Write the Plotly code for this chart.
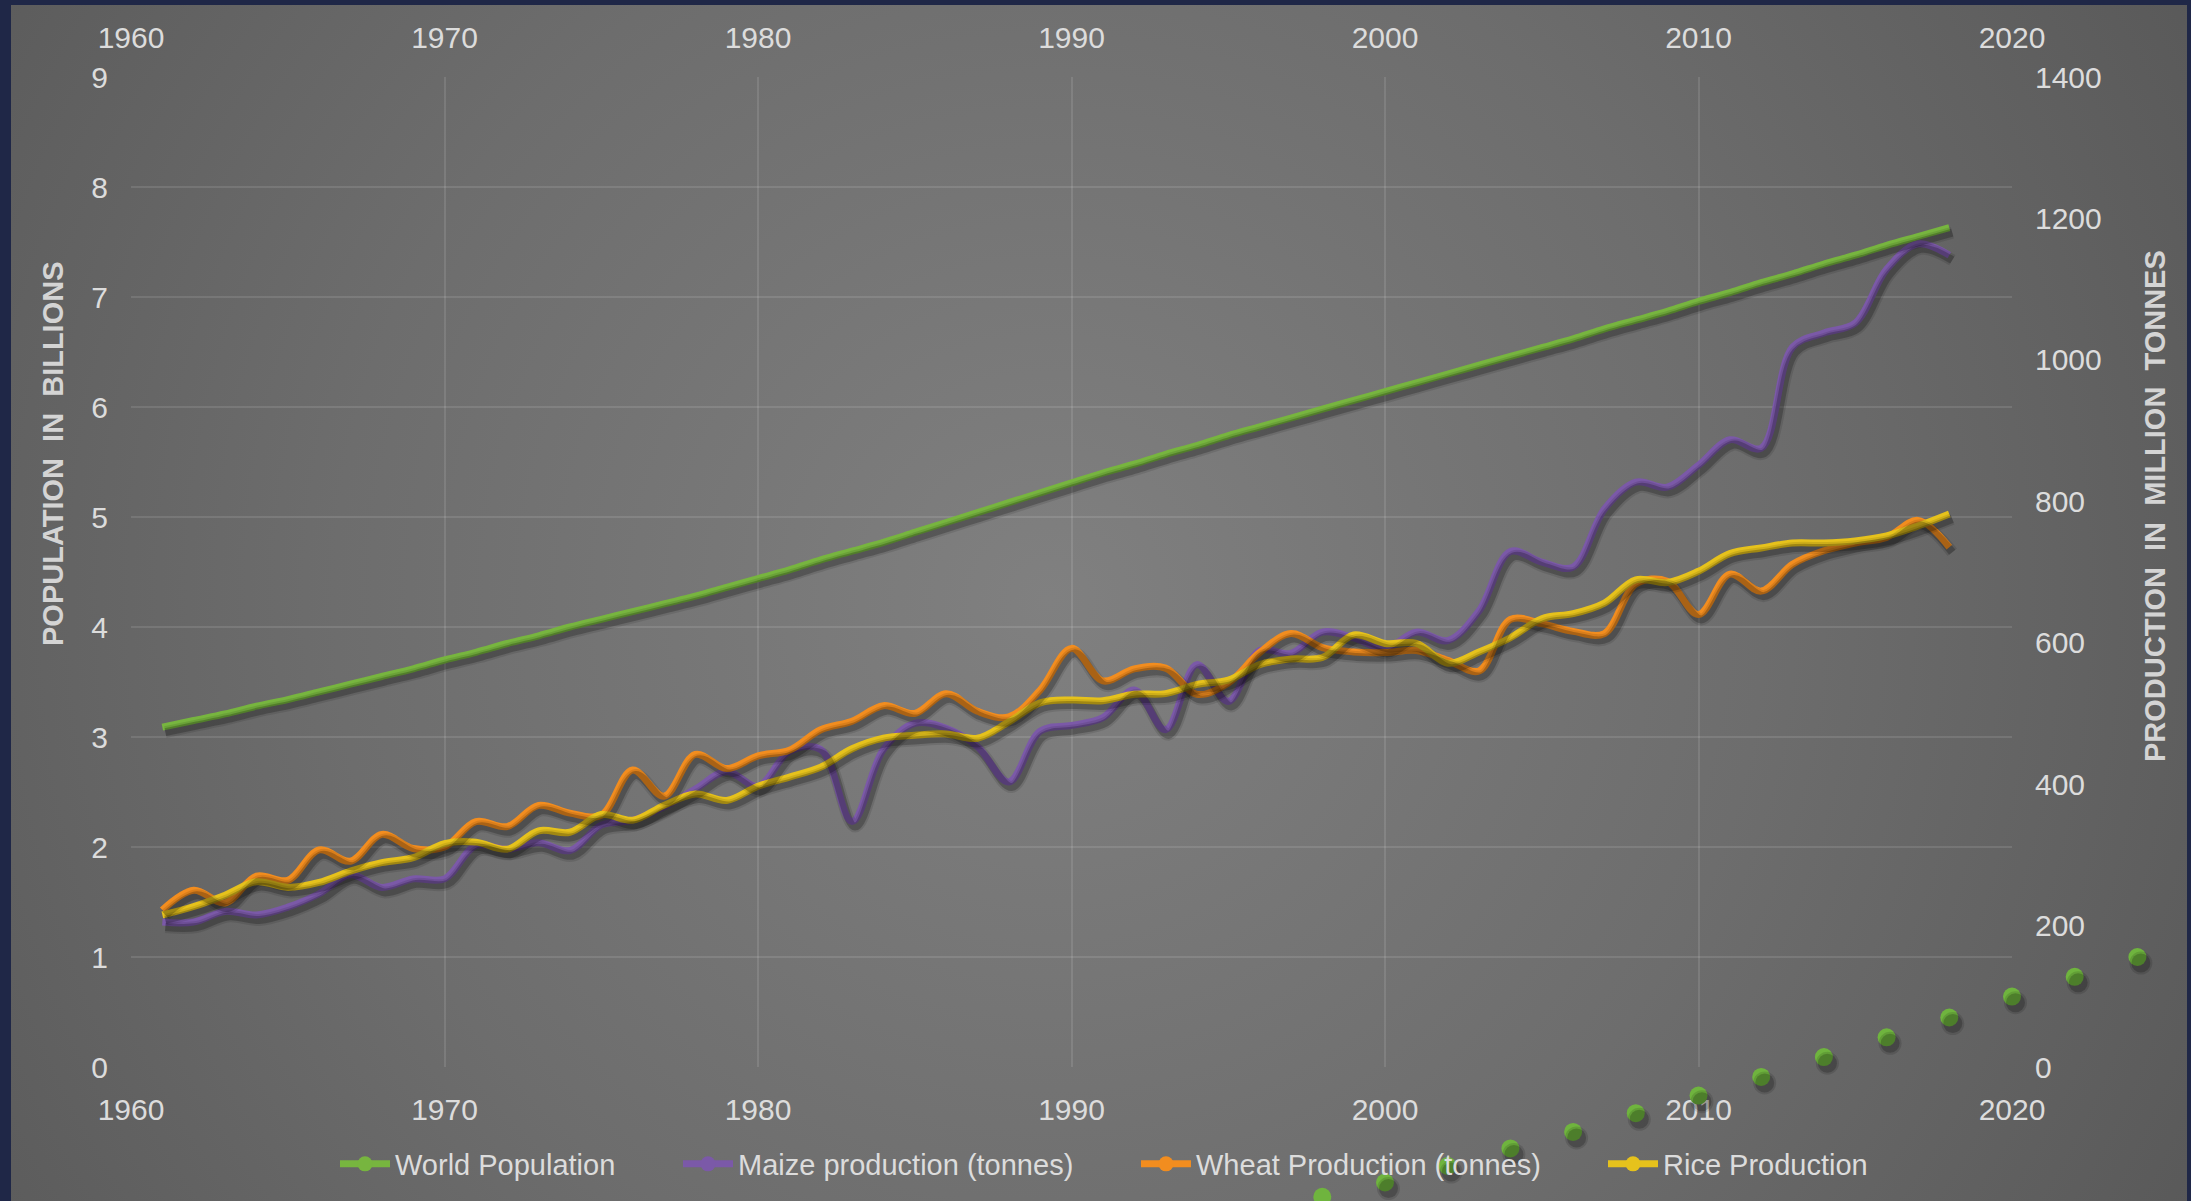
import base64
import plotly.graph_objects as go

# ---------------- data ----------------
years = list(range(1961, 2019))

world_population = [  # billions
    3.09, 3.15, 3.21, 3.28, 3.34, 3.41, 3.48, 3.55, 3.62, 3.70,
    3.77, 3.85, 3.92, 4.00, 4.07, 4.14, 4.21, 4.28, 4.36, 4.44,
    4.52, 4.61, 4.69, 4.77, 4.86, 4.95, 5.04, 5.13, 5.22, 5.31,
    5.40, 5.48, 5.57, 5.65, 5.74, 5.82, 5.90, 5.98, 6.06, 6.14,
    6.22, 6.30, 6.38, 6.46, 6.54, 6.62, 6.71, 6.79, 6.87, 6.96,
    7.04, 7.13, 7.21, 7.30, 7.38, 7.47, 7.55, 7.63,
]

maize = [  # million tonnes
    205, 205, 220, 215, 226, 245, 272, 254, 266, 266,
    313, 308, 317, 306, 342, 349, 368, 393, 418, 397,
    446, 449, 347, 449, 486, 479, 453, 403, 475, 483,
    494, 533, 477, 569, 517, 589, 585, 615, 607, 592,
    615, 603, 645, 729, 714, 707, 789, 827, 820, 851,
    887, 875, 1018, 1038, 1052, 1128, 1164, 1148,
]

wheat = [
    222, 250, 232, 270, 264, 307, 291, 329, 309, 311,
    347, 340, 370, 359, 356, 420, 383, 442, 422, 440,
    448, 477, 489, 511, 500, 528, 503, 495, 533, 592,
    546, 563, 564, 527, 543, 586, 613, 593, 587, 586,
    589, 575, 560, 633, 627, 616, 613, 683, 687, 640,
    697, 673, 711, 730, 741, 749, 773, 735,
]

rice = [
    215, 227, 243, 262, 254, 261, 277, 289, 296, 316,
    318, 308, 334, 332, 357, 349, 370, 386, 377, 397,
    410, 424, 450, 465, 469, 471, 465, 488, 515, 519,
    518, 527, 528, 541, 547, 569, 577, 579, 611, 599,
    599, 571, 587, 607, 634, 641, 656, 689, 685, 701,
    726, 734, 741, 741, 744, 751, 765, 782,
]

# population markers that sit apart from the line (billions scale)
marker_years = [1996, 1998, 2000, 2002, 2004, 2006, 2008, 2010,
                2012, 2014, 2016, 2018, 2020, 2022, 2024]
marker_values = [-1.31, -1.18, -1.05, -0.90, -0.74, -0.59, -0.42, -0.26,
                 -0.09, 0.09, 0.27, 0.45, 0.64, 0.82, 1.00]

series_names = ["World Population", "Maize production (tonnes)",
                "Wheat Production (tonnes)", "Rice Production"]

x_ticks = [1960, 1970, 1980, 1990, 2000, 2010, 2020]

# ---------------- style ----------------
W, H = 2191, 1201
ML, MR, MT, MB = 131, 179, 77, 134          # plot-area insets in pixels
PW, PH = W - ML - MR, H - MT - MB

X_RANGE = [1960, 2020]
Y_RANGE = [0, 9]
Y2_RANGE = [0, 1400]

GREEN = "#77b53f"
PURPLE = "#7b59a8"
ORANGE = "#f28d1f"
YELLOW = "#e6c21c"
TEXT = "#dcdcdc"
GRID = "rgba(255,255,255,0.11)"
FONT = "Liberation Sans, Arial, sans-serif"
LW = 7

SDX, SDY = 3, 5            # drop-shadow offset in pixels

X_DOM = [ML / W, (W - MR) / W]
Y_DOM = [MB / H, (H - MT) / H]


def shifted(rng, px, span_px):
    d = (rng[1] - rng[0]) * px / span_px
    return [rng[0] + d, rng[1] + d]


def widened(rng, lo_px, hi_px, span_px):
    u = (rng[1] - rng[0]) / span_px
    return [rng[0] - lo_px * u, rng[1] + hi_px * u]


fig = go.Figure()

# --- shadows (drawn first, underneath) ---
for vals, xa, ya in [(world_population, "x3", "y3"),
                     (maize, "x4", "y4"), (wheat, "x4", "y4"), (rice, "x4", "y4")]:
    for w, a in [(LW + 5, 0.10), (LW + 1, 0.22)]:
        fig.add_trace(go.Scatter(
            x=years, y=vals, xaxis=xa, yaxis=ya, mode="lines",
            line=dict(color=f"rgba(0,0,0,{a})", width=w, shape="spline"),
            showlegend=False, hoverinfo="skip", cliponaxis=False))

for s, a in [(23, 0.12), (19, 0.20)]:
    fig.add_trace(go.Scatter(
        x=marker_years, y=marker_values, xaxis="x6", yaxis="y6", mode="markers",
        marker=dict(color=f"rgba(0,0,0,{a})", size=s, line=dict(width=0)),
        showlegend=False, hoverinfo="skip", cliponaxis=False))

# --- main series ---
def series(x, y, name, color, xa, ya, legend):
    return go.Scatter(
        x=x, y=y, name=name, xaxis=xa, yaxis=ya, legend=legend,
        mode="lines+markers",
        line=dict(color=color, width=LW, shape="spline", smoothing=1.0),
        marker=dict(color=color, size=15, line=dict(width=0)),
        selectedpoints=[], unselected=dict(marker=dict(opacity=0)),
        cliponaxis=True)

fig.add_trace(series(years, world_population, series_names[0], GREEN, "x", "y", "legend"))
fig.add_trace(series(years, maize, series_names[1], PURPLE, "x2", "y2", "legend2"))
fig.add_trace(series(years, wheat, series_names[2], ORANGE, "x2", "y2", "legend3"))
fig.add_trace(series(years, rice, series_names[3], YELLOW, "x2", "y2", "legend4"))

fig.add_trace(go.Scatter(
    x=marker_years, y=marker_values, xaxis="x5", yaxis="y5", mode="markers",
    marker=dict(color="#6fb43e", size=18, line=dict(width=0)),
    showlegend=False, cliponaxis=False, name=series_names[0]))

# --- background panel with a radial gradient ---
PX0, PY0, PX1, PY1 = 11, 5, 2187, 1201
bw, bh = PX1 - PX0, PY1 - PY0
svg = (
    f'<svg xmlns="http://www.w3.org/2000/svg" width="{bw}" height="{bh}" '
    f'viewBox="0 0 {bw} {bh}" preserveAspectRatio="none">'
    '<defs><radialGradient id="g" gradientUnits="userSpaceOnUse" '
    f'cx="{1050 - PX0}" cy="{600 - PY0}" r="1300">'
    '<stop offset="0" stop-color="#808080"/>'
    '<stop offset="0.55" stop-color="#6d6d6d"/>'
    '<stop offset="1" stop-color="#595959"/>'
    '</radialGradient></defs>'
    f'<rect x="0" y="0" width="{bw}" height="{bh}" fill="url(#g)"/></svg>'
)
bg_src = "data:image/svg+xml;base64," + base64.b64encode(svg.encode()).decode()

fig.add_layout_image(dict(
    source=bg_src, xref="paper", yref="paper",
    x=PX0 / W, y=1 - PY0 / H, sizex=bw / W, sizey=bh / H,
    xanchor="left", yanchor="top", sizing="stretch", layer="below"))

tickfont = dict(family=FONT, size=30, color=TEXT)
common_x = dict(range=X_RANGE, tickvals=x_ticks, ticks="", showline=False,
                zeroline=False, tickfont=tickfont, ticklabelstandoff=22,
                domain=X_DOM)
hidden = dict(visible=False, showgrid=False, zeroline=False)

# full-canvas range on the population scale (for markers beyond the plot area)
X_FULL = widened(X_RANGE, ML, MR, PW)
Y_FULL = widened(Y_RANGE, MB, MT, PH)

fig.update_layout(
    width=W, height=H,
    margin=dict(l=0, r=0, t=0, b=0, autoexpand=False),
    paper_bgcolor="#1f2747",
    plot_bgcolor="rgba(0,0,0,0)",
    hovermode=False,
    xaxis=dict(**common_x, showgrid=True, gridcolor=GRID, gridwidth=2),
    yaxis=dict(range=Y_RANGE, dtick=1, ticks="", showline=False, zeroline=False,
               showgrid=True, gridcolor=GRID, gridwidth=2, tickfont=tickfont,
               ticklabelstandoff=22, domain=Y_DOM),
    xaxis2=dict(**common_x, overlaying="x", side="top", showgrid=False),
    yaxis2=dict(range=Y2_RANGE, dtick=200, overlaying="y", side="right", ticks="",
                showline=False, zeroline=False, showgrid=False, tickfont=tickfont,
                ticklabelstandoff=22, domain=Y_DOM),
    # shadow axes: same scale, offset by a few pixels
    xaxis3=dict(range=shifted(X_RANGE, -SDX, PW), overlaying="x", **hidden),
    yaxis3=dict(range=shifted(Y_RANGE, SDY, PH), overlaying="y", **hidden),
    xaxis4=dict(range=shifted(X_RANGE, -SDX, PW), overlaying="x", **hidden),
    yaxis4=dict(range=shifted(Y2_RANGE, SDY, PH), overlaying="y", **hidden),
    xaxis5=dict(range=X_FULL, domain=[0, 1], anchor="y5", **hidden),
    yaxis5=dict(range=Y_FULL, domain=[0, 1], anchor="x5", **hidden),
    xaxis6=dict(range=shifted(X_FULL, -SDX, PW), overlaying="x5", **hidden),
    yaxis6=dict(range=shifted(Y_FULL, SDY, PH), overlaying="y5", **hidden),
)

# legends, one per series, laid out along the bottom
legend_left = [335, 678, 1136, 1603]
for i, name in enumerate(["legend", "legend2", "legend3", "legend4"]):
    fig.update_layout({name: dict(
        xref="container", yref="container",
        x=legend_left[i] / W, y=1 - 1164 / H,
        xanchor="left", yanchor="middle",
        orientation="h", bgcolor="rgba(0,0,0,0)", borderwidth=0,
        font=dict(family=FONT, size=29, color=TEXT),
        itemwidth=50)})

# axis titles
title_font = dict(family=FONT, size=29, color="#d4d4d4")
fig.add_annotation(
    text="<b>POPULATION \u00a0IN \u00a0BILLIONS</b>", textangle=-90,
    xref="paper", yref="paper", x=53 / W, y=1 - 454 / H,
    showarrow=False, font=title_font, xanchor="center", yanchor="middle")
fig.add_annotation(
    text="<b>PRODUCTION \u00a0IN \u00a0MILLION \u00a0TONNES</b>", textangle=-90,
    xref="paper", yref="paper", x=2155 / W, y=1 - 506 / H,
    showarrow=False, font=title_font, xanchor="center", yanchor="middle")

fig.write_html("out.html")
